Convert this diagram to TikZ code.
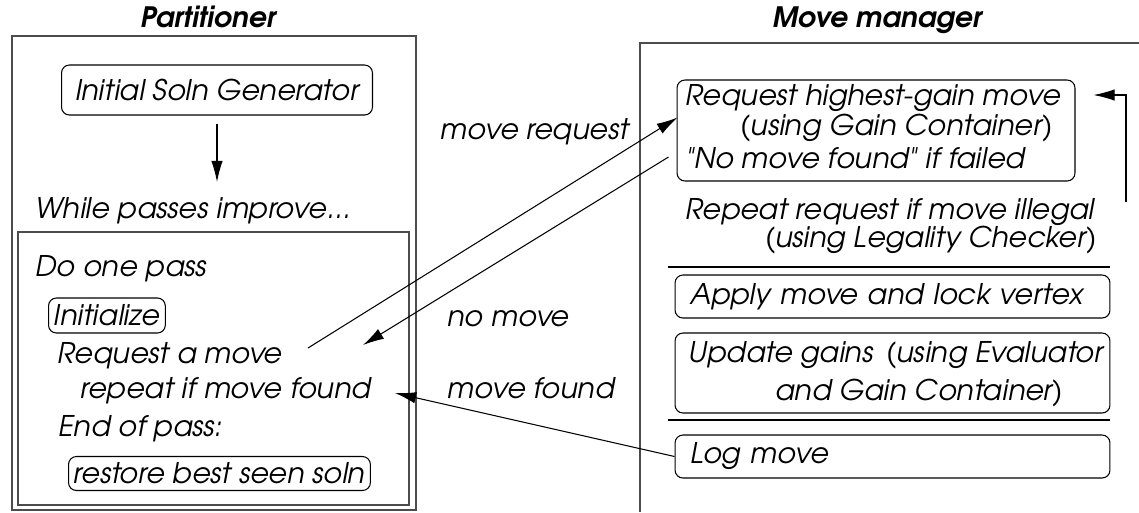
\documentclass[tikz,border=0pt]{standalone}
\usepackage{fontspec}
\setmainfont{TeX Gyre Adventor}[Ligatures=TeXOff]
\usetikzlibrary{arrows.meta,calc}

\tikzset{
  rbox/.style={draw,rounded corners=4.5pt,inner sep=0pt},
  lbl/.style={inner sep=0pt,anchor=base west},
  frame/.style={draw=black!70,line width=0.7pt},
  title/.style={inner sep=0pt,anchor=base,font=\fontsize{16}{19}\selectfont\bfseries\itshape}
}

\begin{document}
\begin{tikzpicture}[x=0.02cm,y=-0.02cm,line width=0.6pt,>={Latex[length=12pt,width=6.5pt]},
    font=\fontsize{16.2}{19}\selectfont\itshape]

    \useasboundingbox (0,0) rectangle (1139,512);

    % the two sides
    \node[title] (part) at (208,27) {Partitioner};
    \node[title] (mm) at (877,27) {Move manager};
    \draw[frame] (12,36) rectangle (416,510);
    \draw[frame] (1139,43) -- (640,43) -- (640,512);

    % partitioner
    \node[rbox,minimum width=6.22cm,minimum height=1cm] (gen) at (217,90) {Initial Soln Generator};
    \node[lbl] (while) at (35,218) {While passes improve...};
    \draw[frame] (18,232) rectangle (409,505);
    \node[lbl] (onepass) at (35,276) {Do one pass};
    \node[rbox,inner xsep=3pt,minimum height=0.7cm,anchor=west] (init) at (48,315.5) {Initialize};
    \node[lbl] (req) at (57,363) {Request a move};
    \node[lbl] (rep) at (80,398) {repeat if move found};
    \node[lbl] (endp) at (58,436) {End of pass:};
    \node[rbox,inner xsep=3pt,minimum height=0.68cm,anchor=west] (restore) at (68,473.5) {restore best seen soln};

    % labels in between
    \node[lbl] (mvreq) at (440,139) {move request};
    \node[lbl] (nomv) at (447,326) {no move};
    \node[lbl] (mvfnd) at (447,398) {move found};

    % move manager
    \node[rbox,minimum width=7.96cm,minimum height=2.02cm] (reqbox) at (876,130.5) {};
    \node[lbl] (rq1) at (685,105) {Request highest-gain move};
    \node[lbl,anchor=base east] (rq2) at (1053,135) {(using Gain Container)};
    \node[lbl] (rq3) at (685,168) {"No move found" if failed};
    \node[lbl,anchor=base east] (rpt1) at (1095,219) {Repeat request if move illegal};
    \node[lbl,anchor=base east] (rpt2) at (1097,247) {(using Legality Checker)};
    \draw (668,267) -- (1110,267);
    \node[rbox,minimum width=8.7cm,minimum height=0.86cm,text width=8.1cm,align=left] (apply) at (892.5,296.5) {Apply move and lock vertex};
    \node[rbox,minimum width=8.7cm,minimum height=1.6cm] (upd) at (892.5,373) {};
    \node[lbl] (upd1) at (688,362) {Update gains\hspace{0.45em}(using Evaluator};
    \node[lbl] (upd2) at (775,400) {and Gain Container)};
    \draw (668,420) -- (1110,420);
    \node[rbox,minimum width=8.7cm,minimum height=0.86cm,text width=8.1cm,align=left] (log) at (892.5,456.5) {Log move};

    % connectors
    \draw[->] (gen.south) ++(0,8) -- (217,182);
    \draw[->] ($(req.base west)+(251,-15)$) -- ($(reqbox.west)+(1,-13)$);
    \draw[->] ($(reqbox.west)+(-8,26.5)$) -- ($(req.base west)+(306,-18)$);
    \draw[->] (log.west) -- ($(rep.base west)+(315,-5)$);
    \draw[->] ($(rpt1.base east)+(31,-17)$) |- ($(reqbox.east)+(18,-35.5)$);

\end{tikzpicture}
\end{document}
